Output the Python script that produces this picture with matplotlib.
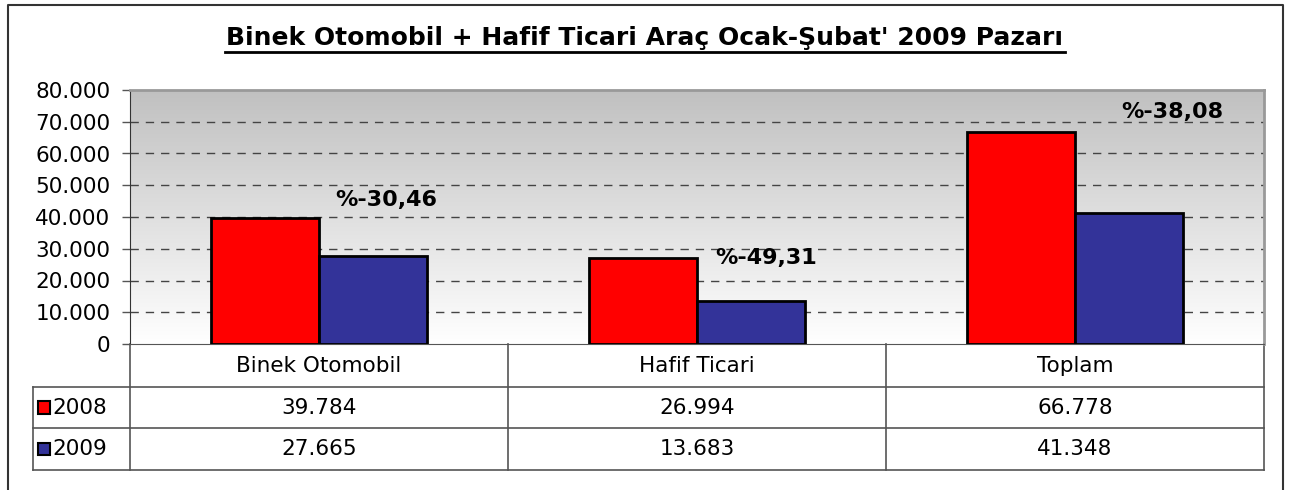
import matplotlib
matplotlib.use("Agg")
import matplotlib.pyplot as plt
import numpy as np
from matplotlib.colors import LinearSegmentedColormap
from matplotlib.lines import Line2D
from matplotlib.patches import Rectangle
from matplotlib.ticker import FuncFormatter

categories = ["Binek Otomobil", "Hafif Ticari", "Toplam"]
years = ["2008", "2009"]
v2008 = [39784, 26994, 66778]
v2009 = [27665, 13683, 41348]
colors = ["#ff0000", "#333399"]
change_labels = ["%-30,46", "%-49,31", "%-38,08"]
change_x = [0.177, 1.182, 2.257]
change_y = [45400, 27100, 73100]

W, H = 1294, 490
fig = plt.figure(figsize=(W / 100, H / 100), dpi=100)
fig.patch.set_facecolor("white")

# dış çerçeve (alt kenar resmin dışında)
fig.add_artist(Line2D([8 / W, 8 / W, 1283 / W, 1283 / W], [0, 1 - 5 / H, 1 - 5 / H, 0],
                      transform=fig.transFigure, color="#333333", lw=1.5))

fig.text(645 / W, 1 - 38 / H, "Binek Otomobil + Hafif Ticari Araç Ocak-Şubat' 2009 Pazarı",
         ha="center", va="center", fontsize=18, fontweight="bold")
fig.add_artist(Line2D([225 / W, 1065 / W], [1 - 52 / H, 1 - 52 / H],
                      transform=fig.transFigure, color="black", lw=2))

ax = fig.add_axes([130 / W, (H - 344) / H, 1134 / W, 254 / H])

# gri -> beyaz geçiş arka plan
cmap = LinearSegmentedColormap.from_list("bg", ["#ffffff", "#c0c0c0"])
grad = np.linspace(0, 1, 256).reshape(-1, 1)
ax.imshow(grad, cmap=cmap, aspect="auto", origin="lower",
          extent=[0, 1, 0, 1], transform=ax.transAxes, zorder=0)

x = np.arange(len(categories))
w = 0.286
ax.bar(x - w / 2, v2008, w, color=colors[0], edgecolor="black", lw=2, zorder=3)
ax.bar(x + w / 2, v2009, w, color=colors[1], edgecolor="black", lw=2, zorder=3)

for lx, ly, lab in zip(change_x, change_y, change_labels):
    ax.text(lx, ly, lab, ha="center", va="center", fontsize=16, fontweight="bold", zorder=4)

ax.set_xlim(-0.5, 2.5)
ax.set_ylim(0, 80000)
ax.set_yticks(np.arange(0, 80001, 10000))
ax.yaxis.set_major_formatter(FuncFormatter(lambda v, p: f"{int(v):,}".replace(",", ".")))
ax.tick_params(axis="y", labelsize=15.5, length=6, width=1, color="#555555", pad=8)
ax.set_xticks([])
for yv in range(10000, 80000, 10000):
    ax.axhline(yv, color="#444444", lw=1, ls=(0, (6, 5)), zorder=1)

ax.spines["left"].set_color("#333333")
ax.spines["bottom"].set_color("#555555")
ax.spines["top"].set_color("#999999")
ax.spines["right"].set_color("#999999")
ax.spines["top"].set_linewidth(2)
ax.spines["right"].set_linewidth(2)

# veri tablosu
tr = ax.get_xaxis_transform()
row_lines = [-0.169, -0.331, -0.496]
row_mid = [-0.085, -0.25, -0.413]
lc = "#555555"
for yl in row_lines:
    ax.add_artist(Line2D([-0.0855, 1], [yl, yl], transform=ax.transAxes, color=lc,
                         lw=1.2, clip_on=False))
ax.add_artist(Line2D([-0.0855, -0.0855], [row_lines[0], row_lines[2]], transform=ax.transAxes,
                     color=lc, lw=1.2, clip_on=False))
for xb in [-0.5, 0.5, 1.5, 2.5]:
    ax.add_artist(Line2D([xb, xb], [0, row_lines[2]], transform=tr, color=lc,
                         lw=1.2, clip_on=False))

for i, cat in enumerate(categories):
    ax.text(i, row_mid[0], cat, transform=tr, ha="center", va="center", fontsize=15.5, clip_on=False)
    ax.text(i, row_mid[1], f"{v2008[i]:,}".replace(",", "."), transform=tr,
            ha="center", va="center", fontsize=15.5, clip_on=False)
    ax.text(i, row_mid[2], f"{v2009[i]:,}".replace(",", "."), transform=tr,
            ha="center", va="center", fontsize=15.5, clip_on=False)

for k, yr in enumerate(years):
    ym = row_mid[k + 1]
    ax.add_artist(Rectangle((-0.0808, ym - 0.024), 0.0105, 0.048, transform=ax.transAxes,
                            facecolor=colors[k], edgecolor="black", lw=1.5, clip_on=False))
    ax.text(-0.0685, ym, yr, transform=ax.transAxes, ha="left", va="center",
            fontsize=15.5, clip_on=False)

fig.savefig("out.png", dpi=100)
